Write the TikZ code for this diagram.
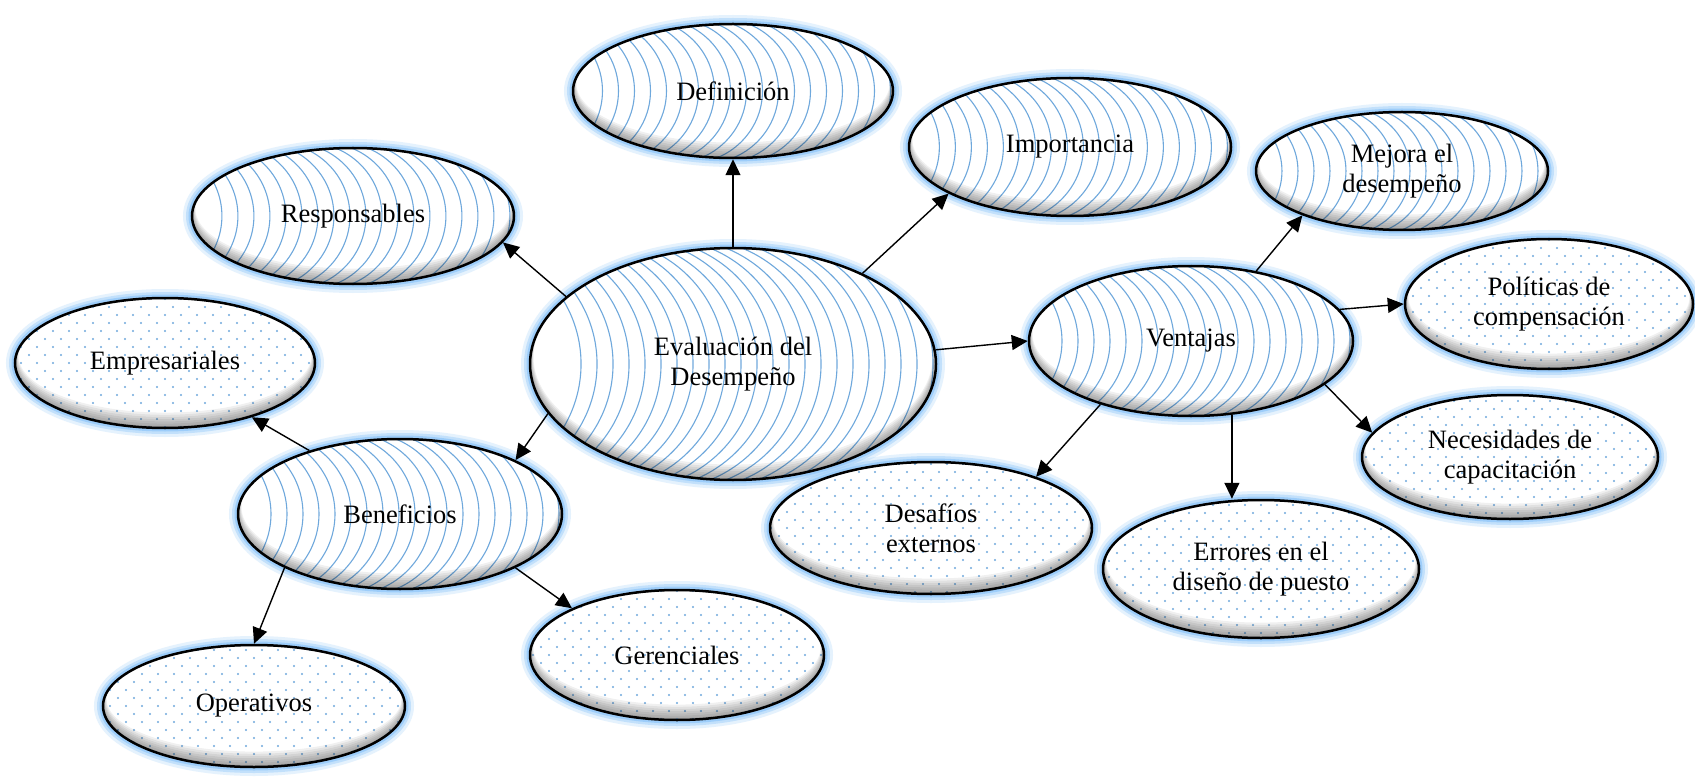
\documentclass[tikz,border=0pt]{standalone}
\usepackage{fontspec}
\setmainfont{Liberation Serif}
\usetikzlibrary{shapes.geometric,arrows.meta}

\definecolor{glowc}{HTML}{99CCFA}
\definecolor{patc}{HTML}{6FA8DC}

\tikzset{
  bubble/.style={ellipse, draw=black, line width=2.5pt, inner sep=0pt,
    align=center, font=\fontsize{26.5}{30}\selectfont},
  arcline/.style={patc, line width=1.1pt},
  link/.style={line width=1.4pt, -{Triangle[length=16pt,width=15pt]}},
}

% vertical arcs opening to the left: cx, cy, rx, ry
\newcommand\bubarcs[4]{%
  \pgfmathsetmacro\Rx{1.1*#4}%
  \pgfmathsetmacro\Ry{1.08*#4}%
  \pgfmathsetmacro\xs{#1-#3-0.6*\Rx}%
  \pgfmathsetmacro\xe{#1+#3}%
  \pgfmathtruncatemacro\nn{(\xe-\xs)/16}%
  \foreach \i in {0,...,\nn}{%
    \pgfmathsetmacro\xa{\xs+16*\i}%
    \draw[arcline] (\xa,#2-\Ry) arc[start angle=90, end angle=-90,
      x radius=\Rx pt, y radius=\Ry pt];
  }%
}

% staggered grid of small dots: cx, cy, rx, ry
\newcommand\bubdots[4]{%
  \fill[patc] foreach \yy in {-88,-72,...,88} {
    foreach \xx in {-168,-152,...,168} {(#1+\xx,#2+\yy) circle[radius=1.1pt]}};
  \fill[patc] foreach \yy in {-80,-64,...,80} {
    foreach \xx in {-160,-144,...,168} {(#1+\xx,#2+\yy) circle[radius=1.1pt]}};
}

% name, cx, cy, rx, ry, fill kind (arcs/dots), text
\newcommand\bubble[7]{%
  \foreach \w/\o in {18/0.25,12/0.45,7/0.9}
    \draw[glowc, line width=\w pt, opacity=\o] (#2,#3) ellipse[x radius=#4pt, y radius=#5pt];
  \fill[white] (#2,#3) ellipse[x radius=#4pt, y radius=#5pt];
  \begin{scope}
    \clip (#2,#3) ellipse[x radius=#4pt, y radius=#5pt];
    \csname bub#6\endcsname{#2}{#3}{#4}{#5}%
    \foreach \s in {2,4,...,14}
      \fill[black, opacity=0.06, even odd rule]
        (#2,#3) ellipse[x radius=#4pt, y radius=#5pt]
        (#2,#3-0.5*\s) ellipse[x radius={(#4-0.25*\s)*1pt}, y radius={(#5-0.6*\s)*1pt}];
  \end{scope}
  \node[bubble, minimum width={2*#4pt}, minimum height={2*#5pt}] (#1) at (#2,#3) {#7};
}

\begin{document}
\begin{tikzpicture}[x=1pt, y=-1pt]
\useasboundingbox (0,0) rectangle (1695,778);
\clip (0,0) rectangle (1695,778);
\fill[white] (0,0) rectangle (1695,778);

\bubble{def}{733}{91}{160}{67}{arcs}{Definición}
\bubble{imp}{1070}{147}{161}{69}{arcs}{Importancia}
\bubble{resp}{353}{216}{161}{68}{arcs}{Responsables}
\bubble{mej}{1402}{171}{146}{59}{arcs}{Mejora el\\desempeño}
\bubble{pol}{1549}{304}{144}{65}{dots}{Políticas de\\compensación}
\bubble{empr}{165}{363}{150}{65}{dots}{Empresariales}
\bubble{eval}{733}{364}{203}{116}{arcs}{Evaluación del\\Desempeño}
\bubble{vent}{1191}{341}{162}{75}{arcs}{Ventajas}
\bubble{nec}{1510}{457}{148}{62}{dots}{Necesidades de\\capacitación}
\bubble{des}{931}{528}{161}{66}{dots}{Desafíos\\externos}
\bubble{benef}{400}{514}{162}{75}{arcs}{Beneficios}
\bubble{err}{1261}{569}{158}{69}{dots}{Errores en el\\diseño de puesto}
\bubble{ger}{677}{655}{147}{65}{dots}{Gerenciales}
\bubble{oper}{254}{706}{151}{61}{dots}{Operativos}

% connectors
\draw[link] (eval.north) -- (def.south);
\draw[link] (eval.35) -- (imp.201);
\draw[link] (eval.158) -- (resp.-10);
\draw[link] (eval.4) -- (vent.180);
\draw[link] (eval.195) -- (benef.25);
\draw[link] (benef.145) -- (empr.-32);
\draw[link] (benef.205) -- (oper.north);
\draw[link] (benef.-25) -- (ger.156);
\draw[link] (vent.47) -- (mej.204);
\draw[link] (vent.12) -- (pol.180);
\draw[link] (vent.-18) -- (nec.170);
\draw[link] (vent.-61) -- (vent.-61 |- err.north);
\draw[link] (vent.215) -- (des.26);
\end{tikzpicture}
\end{document}
